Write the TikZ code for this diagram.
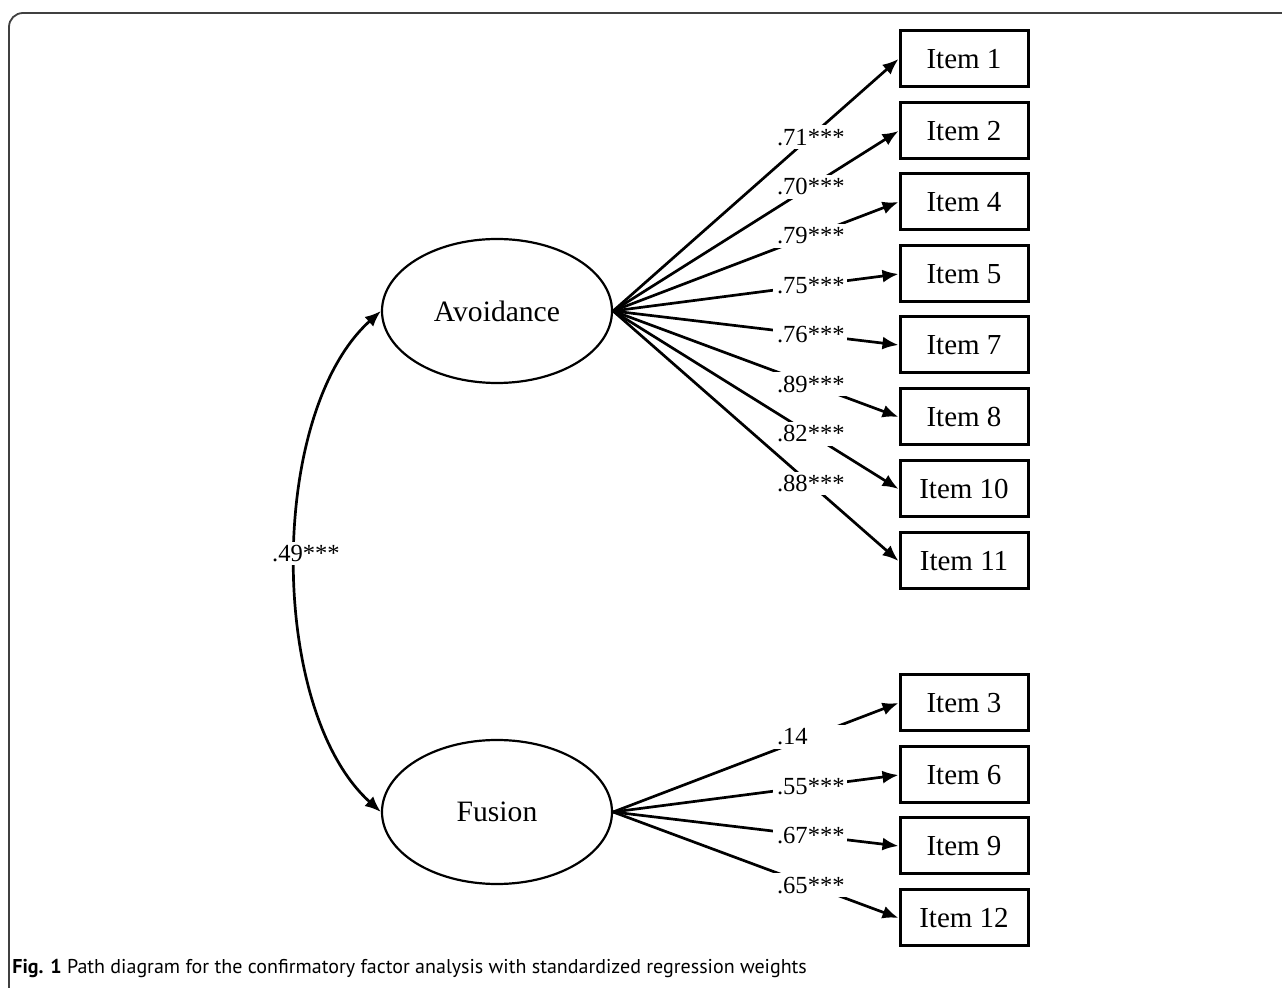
\documentclass[tikz,border=0pt]{standalone}
\usepackage{fontspec}
\setmainfont{Liberation Serif}
\newfontfamily\capfont{PT Sans}
\usetikzlibrary{shapes.geometric,arrows.meta}

\begin{document}
\begin{tikzpicture}[x=0.5pt,y=-0.5pt,
	factor/.style={draw,ellipse,line width=1.1pt,minimum width=115pt,minimum height=72pt,font=\fontsize{14.8}{17}\selectfont},
	item/.style={draw,rectangle,line width=1.5pt,minimum width=64pt,minimum height=28pt,font=\fontsize{14.5}{17}\selectfont},
	load/.style={line width=1.35pt,-{Latex[length=8pt,width=6.5pt]}},
	corr/.style={line width=1.35pt,{Latex[length=8pt,width=6.5pt]}-{Latex[length=8pt,width=6.5pt]}},
	wgt/.style={fill=white,inner sep=1.8pt,text width=33pt,align=left,font=\fontsize{12.3}{14}\selectfont}]
	\useasboundingbox (0,0) rectangle (1282,988);
	\draw[black!75,line width=0.9pt,rounded corners=7pt] (9,988) -- (9,13) -- (1282,13);
	
	\node[factor] (avo) at (497,311) {Avoidance};
	\node[factor] (fus) at (497,812) {Fusion};
	
	\foreach \n/\y in {1/59,2/131,4/202,5/274,7/345,8/417,10/489,11/561}
		\node[item] (i\n) at (964,\y) {Item \n};
	\foreach \n/\y in {3/703,6/775,9/846,12/918}
		\node[item] (i\n) at (964,\y) {Item \n};
	
	\foreach \n/\w in {1/.71***,2/.70***,4/.79***,5/.75***,7/.76***,8/.89***,10/.82***,11/.88***}
		\draw[load] (avo.east) -- node[wgt,pos=0.69] {\w} (i\n.west);
	\foreach \n/\w in {3/.14,6/.55***,9/.67***,12/.65***}
		\draw[load] (fus.east) -- node[wgt,pos=0.69] {\w} (i\n.west);
	
	\draw[corr] (avo.west) to[out=222,in=138,looseness=0.78] node[fill=white,inner sep=1.8pt,xshift=5pt,yshift=4pt,font=\fontsize{12.3}{14}\selectfont] {.49***} (fus.west);
	
	\node[anchor=west,inner sep=0pt,font=\capfont\fontsize{10}{12}\selectfont] (cap) at (12,969) {\textbf{Fig. 1} Path diagram for the confirmatory factor analysis with standardized regression weights};
\end{tikzpicture}
\end{document}
